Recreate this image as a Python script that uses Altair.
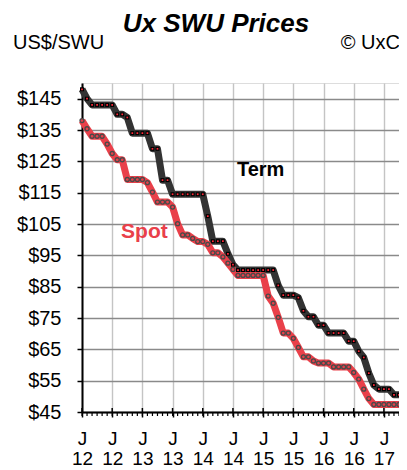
import altair as alt
import pandas as pd

# ---- data (monthly, Jan 2012 .. Apr 2017) ----
term = [148, 145, 143, 143, 143, 143, 143, 140, 140, 139, 134, 134, 134, 134,
        129, 129, 119, 119, 114.5, 114.5, 114.5, 114.5, 114.5, 114.5, 114.5,
        107.5, 99.5, 99.5, 99.5, 95.5, 92, 90.3, 90.3, 90.3, 90.3, 90.3, 90.3,
        90.3, 90.3, 85.4, 82.3, 82.3, 82.3, 81.5, 77.3, 75.4, 75.4, 72.7, 72.7,
        70.2, 70.2, 70.2, 70.2, 67.6, 67.6, 64.4, 62.4, 57.4, 53.6, 52.3, 52.3,
        52.3, 50.5, 50.5]
spot = [138, 135.4, 133, 133, 133, 130.5, 127.5, 125.5, 125.5, 119.2, 119.2,
        119.2, 119.2, 118.2, 115.2, 112, 112, 112, 110.4, 105.1, 101.5, 101.5,
        100.4, 99.4, 99.4, 98.5, 95.8, 95.8, 94.5, 92.5, 90.5, 88.6, 88.6, 88.6,
        88.6, 88.6, 88.6, 82, 79.7, 75.2, 70.2, 70.2, 68.5, 65.6, 62.6, 62.6,
        61.3, 60.6, 60.6, 60.6, 59.4, 59.4, 59.4, 59.4, 57.6, 55.5, 52.3, 49.3,
        47.4, 47.4, 47.4, 47.4, 47.4, 47.4]
months = list(range(len(term)))
x_tick_values = [0, 6, 12, 18, 24, 30, 36, 42, 48, 54, 60]
y_tick_values = [45, 55, 65, 75, 85, 95, 105, 115, 125, 135, 145]

title_text = "Ux SWU Prices"
unit_text = "US$/SWU"
source_text = "© UxC"

FONT = "Liberation Sans"
RED = "#e9404a"
DARK = "#333333"
W, H = 317, 329

df = pd.DataFrame({"m": months, "term": term, "spot": spot})
major = pd.DataFrame({"m": x_tick_values})

xs = alt.Scale(domain=[0, 63], nice=False, zero=False)
ys = alt.Scale(domain=[45, 150], nice=False, zero=False)

x_axis = alt.Axis(values=x_tick_values, tickCount=100,
                  labelExpr="['J', format(12 + floor(datum.value / 12), 'd')]",
                  labelOverlap=False, labelFlush=False,
                  grid=True, gridColor="#c4c4c4", gridWidth=1.4,
                  domainColor="black", domainWidth=2,
                  tickColor="black", tickSize=5, tickWidth=1.5,
                  labelFont=FONT, labelFontSize=19, labelColor="black",
                  labelPadding=12, labelLineHeight=20, labelAngle=0,
                  labelAlign="center", title=None)
y_axis = alt.Axis(values=y_tick_values, tickCount=100,
                  labelExpr="'$' + datum.value",
                  labelOverlap=False, labelFlush=False,
                  grid=True, gridColor="#8a8a8a", gridWidth=1.4,
                  domainColor="black", domainWidth=2,
                  tickColor="black", tickSize=5, tickWidth=1.5,
                  labelFont=FONT, labelFontSize=20, labelColor="black",
                  labelPadding=16, title=None)

base = alt.Chart(df)

frame = base.mark_line(opacity=0).encode(
    x=alt.X("m:Q", scale=xs, axis=x_axis),
    y=alt.Y("term:Q", scale=ys, axis=y_axis),
)

minor_ticks = base.mark_rule(color="black", strokeWidth=1.2).encode(
    x=alt.X("m:Q", scale=xs), y=alt.value(H), y2=alt.value(H + 4))
major_up = alt.Chart(major).mark_rule(color="black", strokeWidth=1.5).encode(
    x=alt.X("m:Q", scale=xs), y=alt.value(H - 4), y2=alt.value(H))

term_line = base.mark_line(color=DARK, strokeWidth=7, strokeJoin="round").encode(
    x=alt.X("m:Q", scale=xs), y=alt.Y("term:Q", scale=ys))
spot_line = base.mark_line(color=RED, strokeWidth=7, strokeJoin="round").encode(
    x=alt.X("m:Q", scale=xs), y=alt.Y("spot:Q", scale=ys))

term_pts = base.mark_square(size=16, color="black", opacity=1).encode(
    x=alt.X("m:Q", scale=xs), y=alt.Y("term:Q", scale=ys))
term_dots = base.mark_square(size=3, color="#ff2a3a", opacity=1).encode(
    x=alt.X("m:Q", scale=xs), y=alt.Y("term:Q", scale=ys))
spot_pts = base.mark_point(shape="circle", filled=True, size=16, fill=RED,
                           stroke="#4a4a4a", strokeWidth=1.3, opacity=1).encode(
    x=alt.X("m:Q", scale=xs), y=alt.Y("spot:Q", scale=ys))

term_lbl = alt.Chart(pd.DataFrame({"m": [35.5], "p": [122.3], "t": ["Term"]})).mark_text(
    font=FONT, fontSize=20, fontWeight="bold", color="black").encode(
    x=alt.X("m:Q", scale=xs), y=alt.Y("p:Q", scale=ys), text="t:N")
spot_lbl = alt.Chart(pd.DataFrame({"m": [12.4], "p": [102.5], "t": ["Spot"]})).mark_text(
    font=FONT, fontSize=21, fontWeight="bold", color=RED).encode(
    x=alt.X("m:Q", scale=xs), y=alt.Y("p:Q", scale=ys), text="t:N")

title = alt.Chart(pd.DataFrame({"t": [title_text]})).mark_text(
    font=FONT, fontSize=26, fontWeight="bold", fontStyle="italic", color="black",
    baseline="middle").encode(x=alt.value(134), y=alt.value(-59), text="t:N")
unit = alt.Chart(pd.DataFrame({"t": [unit_text]})).mark_text(
    font=FONT, fontSize=20, color="black", align="left", baseline="middle").encode(
    x=alt.value(-69), y=alt.value(-40), text="t:N")
source = alt.Chart(pd.DataFrame({"t": [source_text]})).mark_text(
    font=FONT, fontSize=20, color="black", align="right", baseline="middle").encode(
    x=alt.value(318), y=alt.value(-40), text="t:N")

chart = alt.layer(frame, minor_ticks, major_up, term_line, spot_line,
                  term_pts, term_dots, spot_pts, term_lbl, spot_lbl,
                  title, unit, source).properties(
    width=W, height=H,
    autosize=alt.AutoSizeParams(type="none"),
    padding={"left": 74, "top": 75, "right": 0, "bottom": 58},
).configure_view(stroke="black", strokeWidth=1.5).configure(background="white")

chart.save("out.html", embed_options={"renderer": "svg", "actions": False})
